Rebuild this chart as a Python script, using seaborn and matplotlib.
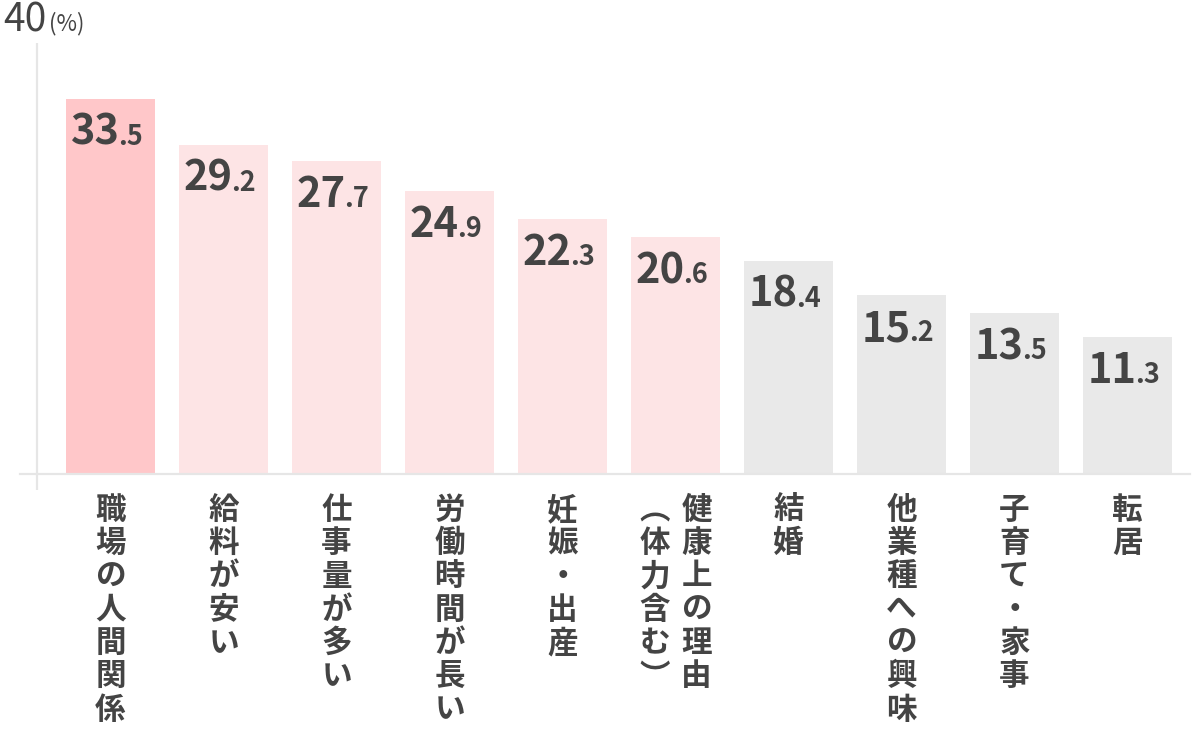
import pandas as pd
import numpy as np
import seaborn as sns
import matplotlib.pyplot as plt

# data
categories = ["職場の人間関係", "給料が安い", "仕事量が多い", "労働時間が長い", "妊娠・出産",
              "健康上の理由（体力含む）", "結婚", "他業種への興味", "子育て・家事", "転居"]
values = [33.5, 29.2, 27.7, 24.9, 22.3, 20.6, 18.4, 15.2, 13.5, 11.3]
bar_colors = ["#FFC7C9", "#FDE4E5", "#FDE4E5", "#FDE4E5", "#FDE4E5",
              "#FDE4E5", "#E9E9E9", "#E9E9E9", "#E9E9E9", "#E9E9E9"]

df = pd.DataFrame({"cat": categories, "val": values})

sns.set_theme(style="white")
plt.rcParams['font.family'] = ['Noto Sans CJK JP', 'DejaVu Sans']

txt = "#444444"
line_col = "#E6E6E6"
px = 0.72  # points per pixel at dpi 100

fig = plt.figure(figsize=(12, 7.4), dpi=100)
ax = fig.add_axes([20 / 1200, 266 / 740, 1170 / 1200, 431 / 740])

sns.barplot(data=df, x="cat", y="val", hue="cat", palette=bar_colors,
            width=0.788, legend=False, ax=ax, saturation=1)

ymin, ymax = -1.49, 38.7
ax.set_ylim(ymin, ymax)
ax.set_xlim(-0.801, 9.553)

# bars reach down to the baseline
for p in ax.patches:
    h = p.get_height()
    p.set_y(ymin)
    p.set_height(h - ymin)
    p.set_linewidth(0)

# spines
for s in ["top", "right", "left"]:
    ax.spines[s].set_visible(False)
ax.spines["bottom"].set_color(line_col)
ax.spines["bottom"].set_linewidth(1.6)
ax.plot([-0.65, -0.65], [ymin - 16 / 10.72, ymax], color=line_col, lw=1.6,
        clip_on=False, solid_capstyle="butt")

ax.set_xticks([])
ax.set_yticks([])
ax.set_xlabel("")
ax.set_ylabel("")

# value labels: big integer part, small decimal part
for i, v in enumerate(values):
    ip, dp = f"{v:.1f}".split(".")
    ax.annotate(ip, xy=(i, v), xytext=(9 * px, -46 * px), textcoords="offset points",
                ha="right", va="baseline", fontsize=30, fontweight="bold", color=txt)
    ax.annotate("." + dp, xy=(i, v), xytext=(8 * px, -46 * px), textcoords="offset points",
                ha="left", va="baseline", fontsize=19.5, fontweight="bold", color=txt)

# vertical category labels
vert = {"（": "︵", "）": "︶"}
trans = ax.get_xaxis_transform()
for i, c in enumerate(categories):
    if "（" in c:
        cols = [c[:c.index("（")], c[c.index("（"):]]
        offs = [21, -21]
    else:
        cols = [c]
        offs = [0]
    for col, dx in zip(cols, offs):
        s = "\n".join(vert.get(ch, ch) for ch in col)
        ax.annotate(s, xy=(i, 0), xycoords=trans, xytext=(dx * px, -20 * px),
                    textcoords="offset points", ha="center", va="top",
                    fontsize=22, fontweight="bold", color=txt, linespacing=1.05)

# y max label
ax.text(47 / 1200, 739 / 740, "40", transform=fig.transFigure, ha="right", va="top",
        fontsize=28, color=txt)
ax.text(49 / 1200, 705 / 740, "(%)", transform=fig.transFigure, ha="left", va="bottom",
        fontsize=16, color=txt)

plt.savefig("out.png", dpi=100)
